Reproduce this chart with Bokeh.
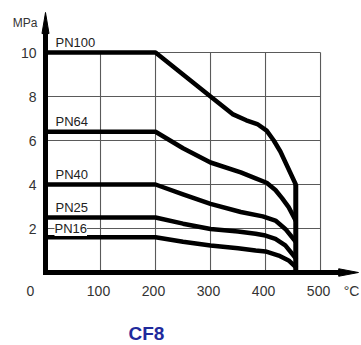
from bokeh.plotting import figure
from bokeh.models import Range1d, Label
from bokeh.core.properties import value
from bokeh.embed import file_html
from bokeh.resources import INLINE

# ---- data ----
pn100_t = [0, 200, 250, 300, 340, 365, 385, 402, 415, 427, 441, 455]
pn100_p = [10, 10, 9.0, 8.0, 7.2, 6.92, 6.75, 6.45, 6.0, 5.5, 4.75, 4.0]
pn64_t = [0, 200, 250, 300, 355, 382, 402, 418, 430, 442, 455]
pn64_p = [6.4, 6.4, 5.65, 5.0, 4.55, 4.28, 4.08, 3.75, 3.38, 2.97, 2.35]
pn40_t = [0, 200, 250, 300, 355, 395, 418, 436, 455]
pn40_p = [4.0, 4.0, 3.55, 3.12, 2.75, 2.55, 2.36, 1.98, 1.4]
pn25_t = [0, 200, 250, 300, 350, 382, 400, 418, 436, 455]
pn25_p = [2.5, 2.5, 2.22, 1.98, 1.86, 1.76, 1.68, 1.53, 1.23, 0.65]
pn16_t = [0, 200, 250, 300, 350, 382, 400, 424, 442, 455]
pn16_p = [1.6, 1.6, 1.4, 1.23, 1.1, 1.0, 0.96, 0.77, 0.55, 0.25]
series_names = ["PN100", "PN64", "PN40", "PN25"]
series_levels = [10, 6.4, 4.0, 2.5]
pn16_name = "PN16"
pn16_level = 2.0
x_ticks = [100, 200, 300, 400, 500]
y_ticks = [2, 4, 6, 8, 10]
x_unit = "°C"
y_unit = "MPa"
title = "CF8"
t_end = 455

X_MAX = 500
Y_MAX = 10
FONT = value("Liberation Sans")

p = figure(width=361, height=345,
           x_range=Range1d(-81.82, 574.5), y_range=Range1d(-3.318, 12.364),
           x_axis_type=None, y_axis_type=None,
           toolbar_location=None, output_backend="svg", min_border=0)
p.outline_line_color = None
p.background_fill_color = "white"

# grid
p.segment(x0=x_ticks, x1=x_ticks, y0=[0] * len(x_ticks), y1=[Y_MAX] * len(x_ticks),
          line_color="#5a5a5a", line_width=1.1)
p.segment(x0=[0] * len(y_ticks), x1=[X_MAX] * len(y_ticks), y0=y_ticks, y1=y_ticks,
          line_color="#5a5a5a", line_width=1.1)

# curves
for t, pr in [(pn100_t, pn100_p), (pn64_t, pn64_p), (pn40_t, pn40_p),
              (pn25_t, pn25_p), (pn16_t, pn16_p)]:
    p.line(t, pr, line_color="black", line_width=4.5, line_join="round", line_cap="round")

# end line
p.line([t_end, t_end], [0, pn100_p[-1]], line_color="black", line_width=5)

# axes
y_arrow_base = 10.86
y_arrow_tip = 11.82
x_arrow_base = 533
x_arrow_tip = 569
p.line([0, 0], [0, y_arrow_base], line_color="black", line_width=5, line_cap="square")
p.line([0, x_arrow_base], [0, 0], line_color="black", line_width=5, line_cap="square")
p.patch([-6.4, 6.4, 0], [y_arrow_base, y_arrow_base, y_arrow_tip], color="black")
p.patch([x_arrow_base, x_arrow_base, x_arrow_tip], [0.17, -0.17, 0], color="black")

# tick labels
p.text(x=[0] * len(y_ticks), y=y_ticks, text=[str(v) for v in y_ticks],
       x_offset=-9, text_align="right", text_baseline="middle",
       text_font=FONT, text_font_size="14px", text_color="#333333")
p.text(x=x_ticks, y=[0] * len(x_ticks), text=[str(v) for v in x_ticks],
       x_offset=-2, y_offset=18, text_align="center", text_baseline="middle",
       text_font=FONT, text_font_size="14px", text_color="#333333")
p.text(x=[0], y=[0], text=["0"], x_offset=-15, y_offset=18,
       text_align="center", text_baseline="middle",
       text_font=FONT, text_font_size="14px", text_color="#333333")
p.text(x=[X_MAX], y=[0], text=[x_unit], x_offset=31, y_offset=18,
       text_align="center", text_baseline="middle",
       text_font=FONT, text_font_size="14px", text_color="#333333")
p.text(x=[0], y=[Y_MAX], text=[y_unit], x_offset=-8, y_offset=-30,
       text_align="right", text_baseline="middle",
       text_font=FONT, text_font_size="12px", text_color="#333333")

# series labels
p.text(x=[0] * len(series_names), y=series_levels, text=series_names,
       x_offset=10, y_offset=-3, text_align="left", text_baseline="bottom",
       text_font=FONT, text_font_size="13px", text_color="#222222")
p.add_layout(Label(x=0, y=pn16_level, text=pn16_name, x_offset=9,
                   text_align="left", text_baseline="middle",
                   text_font="Liberation Sans", text_font_size="13px", text_color="#222222",
                   background_fill_color="white"))

# title
p.text(x=[X_MAX * 0.367], y=[0], text=[title], y_offset=61,
       text_align="center", text_baseline="middle",
       text_font=value("Liberation Sans"), text_font_style="bold",
       text_font_size="19px", text_color="#1f2a9c")

open("out.html", "w").write(file_html(p, INLINE))
